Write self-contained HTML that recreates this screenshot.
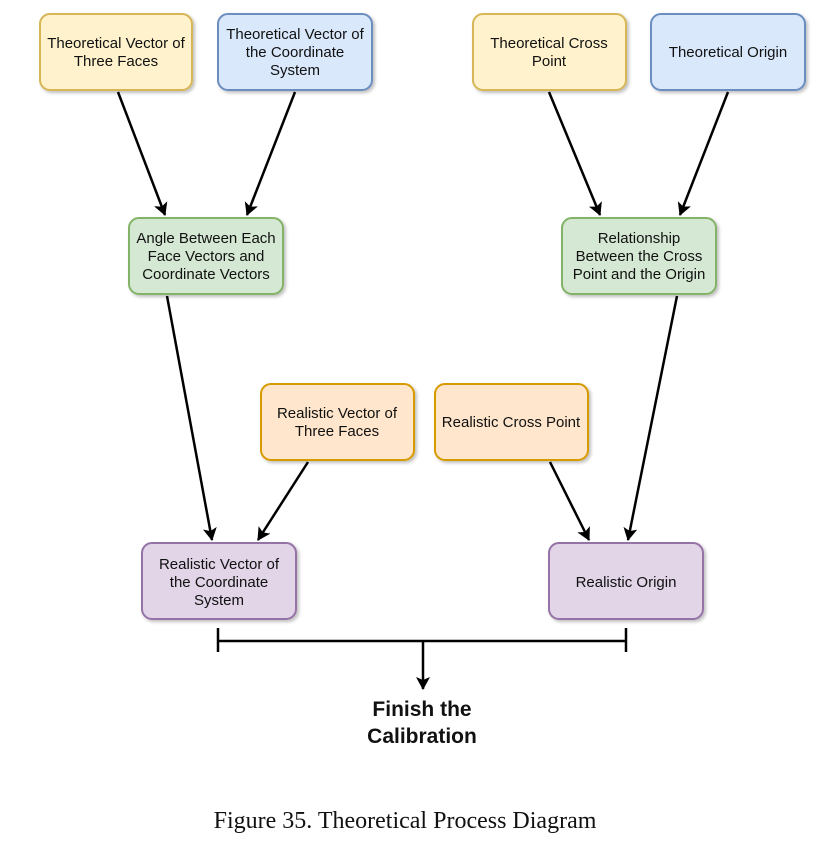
<!DOCTYPE html>
<html><head><meta charset="utf-8"><style>
html,body{margin:0;padding:0;background:#fff;}
svg text{font-family:"Liberation Sans",sans-serif;font-size:15px;fill:#111;text-anchor:middle;}
</style></head><body>
<svg width="817" height="846" viewBox="0 0 817 846" xmlns="http://www.w3.org/2000/svg">
<defs>
<marker id="a" markerWidth="14" markerHeight="14" refX="12" refY="7" orient="auto" markerUnits="userSpaceOnUse">
<path d="M0,0 L13,7 L0,14 L3,7 Z" fill="#000"/></marker>
<filter id="s" x="-10%" y="-10%" width="130%" height="130%"><feDropShadow dx="2" dy="2" stdDeviation="1.5" flood-color="#000" flood-opacity="0.25"/></filter>
</defs>
<g stroke-width="2" filter="url(#s)">
<rect x="40" y="14" width="152" height="76" rx="10" fill="#fff2cc" stroke="#d6b656"/>
<rect x="218" y="14" width="154" height="76" rx="10" fill="#dae8fc" stroke="#6c8ebf"/>
<rect x="473" y="14" width="153" height="76" rx="10" fill="#fff2cc" stroke="#d6b656"/>
<rect x="651" y="14" width="154" height="76" rx="10" fill="#dae8fc" stroke="#6c8ebf"/>
<rect x="129" y="218" width="154" height="76" rx="10" fill="#d5e8d4" stroke="#82b366"/>
<rect x="562" y="218" width="154" height="76" rx="10" fill="#d5e8d4" stroke="#82b366"/>
<rect x="261" y="384" width="153" height="76" rx="10" fill="#ffe6cc" stroke="#d79b00"/>
<rect x="435" y="384" width="153" height="76" rx="10" fill="#ffe6cc" stroke="#d79b00"/>
<rect x="142" y="543" width="154" height="76" rx="10" fill="#e1d5e7" stroke="#9673a6"/>
<rect x="549" y="543" width="154" height="76" rx="10" fill="#e1d5e7" stroke="#9673a6"/>
</g>
<g stroke="#000" stroke-width="2.5" fill="none" marker-end="url(#a)">
<line x1="118" y1="92" x2="165" y2="215"/>
<line x1="295" y1="92" x2="247" y2="215"/>
<line x1="549" y1="92" x2="600" y2="215"/>
<line x1="728" y1="92" x2="680" y2="215"/>
<line x1="167" y1="296" x2="212" y2="540"/>
<line x1="308" y1="462" x2="258" y2="540"/>
<line x1="550" y1="462" x2="589" y2="540"/>
<line x1="677" y1="296" x2="628" y2="540"/>
<line x1="423" y1="641" x2="423" y2="689"/>
</g>
<g stroke="#000" stroke-width="2.5">
<line x1="218" y1="641" x2="626" y2="641"/>
<line x1="218" y1="628" x2="218" y2="652"/>
<line x1="626" y1="628" x2="626" y2="652"/>
</g>
<text x="116" y="48">Theoretical Vector of</text><text x="116" y="66">Three Faces</text>
<text x="295" y="39">Theoretical Vector of</text><text x="295" y="57">the Coordinate</text><text x="295" y="75">System</text>
<text x="549" y="48">Theoretical Cross</text><text x="549" y="66">Point</text>
<text x="728" y="57">Theoretical Origin</text>
<text x="206" y="243">Angle Between Each</text><text x="206" y="261">Face Vectors and</text><text x="206" y="279">Coordinate Vectors</text>
<text x="639" y="243">Relationship</text><text x="639" y="261">Between the Cross</text><text x="639" y="279">Point and the Origin</text>
<text x="337" y="418">Realistic Vector of</text><text x="337" y="436">Three Faces</text>
<text x="511" y="427">Realistic Cross Point</text>
<text x="219" y="569">Realistic Vector of</text><text x="219" y="587">the Coordinate</text><text x="219" y="605">System</text>
<text x="626" y="587">Realistic Origin</text>
<text x="422" y="716" style="font-size:21px;font-weight:bold">Finish the</text>
<text x="422" y="743" style="font-size:21px;font-weight:bold">Calibration</text>
<text x="405" y="828" style="font-family:'Liberation Serif',serif;font-size:24px">Figure 35. Theoretical Process Diagram</text>
</svg>
</body></html>
